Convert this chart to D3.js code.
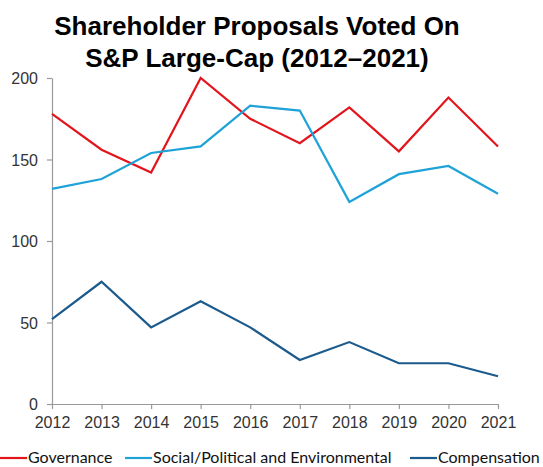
<!DOCTYPE html>
<html>
<head>
<meta charset="utf-8">
<script src="https://cdn.jsdelivr.net/npm/d3@7"></script>
<style>
  body { margin: 0; background: #fff; }
  svg { display: block; }
</style>
</head>
<body>
<svg id="chart" width="543" height="467"></svg>
<script>
const years = [2012, 2013, 2014, 2015, 2016, 2017, 2018, 2019, 2020, 2021];
const governance = [178, 156, 142, 200, 175, 160, 182, 155, 188, 158];
const social = [132, 138, 154, 158, 183, 180, 124, 141, 146, 129];
const compensation = [52, 75, 47, 63, 47, 27, 38, 25, 25, 17];
const yTicks = [0, 50, 100, 150, 200];

const seriesNames = ["Governance", "Social/Political and Environmental", "Compensation"];
const seriesColors = ["#e3151c", "#1ea2d8", "#1a5a8c"];
const seriesData = [governance, social, compensation];

const svg = d3.select("#chart");
const margin = { left: 52, right: 45, top: 78, bottom: 63 };
const width = +svg.attr("width");
const height = +svg.attr("height");

const x = d3.scalePoint().domain(years).range([margin.left, width - margin.right]);
const y = d3.scaleLinear().domain([0, 200]).range([height - margin.bottom, margin.top]);

// title
const title = svg.append("text")
    .attr("text-anchor", "middle")
    .style("font-family", "'Liberation Sans', Arial, sans-serif")
    .style("font-weight", "bold")
    .style("font-size", "26px")
    .style("fill", "#000");
title.append("tspan").attr("x", 257).attr("y", 35).text("Shareholder Proposals Voted On");
title.append("tspan").attr("x", 257).attr("y", 67).text("S&P Large-Cap (2012\u20132021)");

// axes
const xAxis = svg.append("g")
    .attr("transform", `translate(0,${y(0)})`)
    .call(d3.axisBottom(x).tickSize(5).tickPadding(5).tickSizeOuter(0));

const yAxis = svg.append("g")
    .attr("transform", `translate(${margin.left},0)`)
    .call(d3.axisLeft(y).tickValues(yTicks).tickSize(5).tickPadding(9).tickSizeOuter(0));

[xAxis, yAxis].forEach(g => {
    g.select(".domain").attr("stroke", "#999").attr("stroke-width", 1.2);
    g.selectAll(".tick line").attr("stroke", "#999").attr("stroke-width", 1.2);
    g.selectAll(".tick text")
        .style("font-family", "'Liberation Sans', Arial, sans-serif")
        .style("font-size", "16px")
        .style("fill", "#333");
});
xAxis.selectAll(".tick text").attr("dy", "0.9em");
yAxis.selectAll(".tick text").attr("dy", "0.35em");

// lines
const line = d3.line()
    .x((d, i) => x(years[i]))
    .y(d => y(d));

seriesData.forEach((values, i) => {
    svg.append("path")
        .datum(values)
        .attr("fill", "none")
        .attr("stroke", seriesColors[i])
        .attr("stroke-width", 2.2)
        .attr("d", line);
});

// legend
const legendY = 458;
const legendX = [0, 125, 410];
seriesNames.forEach((name, i) => {
    const g = svg.append("g").attr("transform", `translate(${legendX[i]},${legendY})`);
    g.append("line")
        .attr("x1", 0).attr("x2", 27)
        .attr("y1", 0).attr("y2", 0)
        .attr("stroke", seriesColors[i])
        .attr("stroke-width", 2.2);
    g.append("text")
        .attr("x", 28)
        .attr("y", 5)
        .style("font-family", "Lato, 'Open Sans', sans-serif")
        .style("font-size", "16px")
        .style("fill", "#111")
        .text(name);
});
</script>
</body>
</html>
